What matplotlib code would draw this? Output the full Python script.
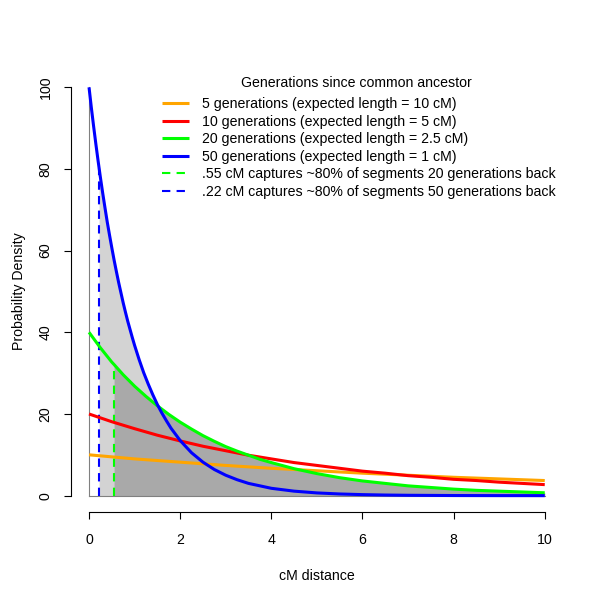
import numpy as np
import matplotlib
matplotlib.use("Agg")
import matplotlib.pyplot as plt

plt.rcParams['font.family'] = ['Liberation Sans', 'DejaVu Sans']
plt.rcParams['font.size'] = 10.2

# 50 generations curve, read densely because it is steep near 0
cm50 = [0, 0.05, 0.1, 0.15, 0.2, 0.22, 0.25, 0.3, 0.35, 0.4, 0.45, 0.5, 0.55,
        0.6, 0.65, 0.7, 0.75, 0.8, 0.85, 0.9, 0.95, 1.0,
        1.1, 1.2, 1.3, 1.4, 1.5, 1.6, 1.7, 1.8, 1.9, 2.0,
        2.25, 2.5, 2.75, 3.0, 3.25, 3.5, 3.75, 4.0,
        4.5, 5.0, 5.5, 6.0, 6.5, 7.0, 7.5, 8.0, 8.5, 9.0, 9.5, 10]
gen50 = [100, 95.1, 90.5, 86.1, 81.9, 80.3, 77.9, 74.1, 70.5, 67.0, 63.8, 60.7, 57.7,
         54.9, 52.2, 49.7, 47.2, 44.9, 42.7, 40.7, 38.7, 36.8,
         33.3, 30.1, 27.3, 24.7, 22.3, 20.2, 18.3, 16.5, 15.0, 13.5,
         10.5, 8.2, 6.4, 5.0, 3.9, 3.0, 2.4, 1.8,
         1.1, 0.67, 0.41, 0.25, 0.15, 0.09, 0.06, 0.03, 0.02, 0.01, 0.01, 0.0]

# 20 generations curve
cm20 = [0, 0.25, 0.5, 0.55, 0.75, 1.0, 1.25, 1.5, 1.75, 2.0, 2.25, 2.5, 2.75,
        3.0, 3.25, 3.5, 3.75, 4.0, 4.5, 5.0, 5.5, 6.0, 6.5, 7.0, 7.5,
        8.0, 8.5, 9.0, 9.5, 10]
gen20 = [40, 36.2, 32.7, 32.1, 29.6, 26.8, 24.3, 22.0, 19.9, 18.0, 16.3, 14.7, 13.3,
         12.0, 10.9, 9.9, 8.9, 8.1, 6.6, 5.4, 4.4, 3.6, 3.0, 2.4, 2.0,
         1.6, 1.3, 1.1, 0.9, 0.7]

# 10 generations curve
cm10 = [0, 0.5, 1, 1.5, 2, 2.5, 3, 3.5, 4, 4.5, 5, 5.5, 6, 6.5, 7, 7.5,
        8, 8.5, 9, 9.5, 10]
gen10 = [20, 18.1, 16.4, 14.8, 13.4, 12.1, 11.0, 9.9, 9.0, 8.1, 7.4, 6.7,
         6.0, 5.5, 4.9, 4.5, 4.0, 3.7, 3.3, 3.0, 2.7]

# 5 generations curve
cm5 = [0, 1, 2, 3, 4, 5, 6, 7, 8, 9, 10]
gen5 = [10, 9.0, 8.2, 7.4, 6.7, 6.1, 5.5, 5.0, 4.5, 4.1, 3.7]

curve_labels = ['5 generations (expected length = 10 cM)',
                '10 generations (expected length = 5 cM)',
                '20 generations (expected length = 2.5 cM)',
                '50 generations (expected length = 1 cM)']
curve_colors = ['orange', 'red', '#00FF00', 'blue']

# 80% cutoffs
cut_x = [0.55, 0.22]
cut_y = [32.1, 80.3]
cut_colors = ['#00FF00', 'blue']
cut_labels = ['.55 cM captures ~80% of segments 20 generations back',
              '.22 cM captures ~80% of segments 50 generations back']

fig = plt.figure(figsize=(6, 6), dpi=100)
ax = fig.add_axes([0.118, 0.1467, 0.8203, 0.735])
ax.set_xlim(-0.4, 10.4)
ax.set_ylim(-4, 104)

# shaded areas beyond the cutoffs
x50 = np.array(cm50)
x20 = np.array(cm20)
ax.fill_between(x50, 0, gen50, where=x50 >= cut_x[1], color='#D3D3D3', lw=0, zorder=1)
ax.fill_between(x20, 0, gen20, where=x20 >= cut_x[0], color='#A9A9A9', lw=0, zorder=2)
ax.plot([0, 0], [0, 100], color='#808080', lw=0.8, zorder=3)
ax.plot([0, 10], [0, 0], color='#808080', lw=0.8, zorder=3)

handles = []
series = [(cm5, gen5), (cm10, gen10), (cm20, gen20), (cm50, gen50)]
for (xs, ys), col, lab in zip(series, curve_colors, curve_labels):
    h, = ax.plot(xs, ys, color=col, lw=2.2, label=lab, zorder=5,
                 solid_capstyle='butt', solid_joinstyle='round')
    handles.append(h)
for cx, cy, col, lab in zip(cut_x, cut_y, cut_colors, cut_labels):
    h, = ax.plot([cx, cx], [0, cy], color=col, lw=1.5, dashes=(4, 3),
                 label=lab, zorder=4)
    handles.append(h)

for s in ['top', 'right']:
    ax.spines[s].set_visible(False)
ax.spines['left'].set_bounds(0, 100)
ax.spines['bottom'].set_bounds(0, 10)
ax.spines['left'].set_linewidth(0.8)
ax.spines['bottom'].set_linewidth(0.8)
ax.set_xticks([0, 2, 4, 6, 8, 10])
ax.set_yticks([0, 20, 40, 60, 80, 100])
ax.tick_params(direction='out', length=5, width=0.8, pad=8)
ax.tick_params(axis='x', pad=10)
for t in ax.get_yticklabels():
    t.set_rotation(90)
    t.set_va('center')

ax.set_xlabel('cM distance', labelpad=16)
ax.set_ylabel('Probability Density', labelpad=9)

fig.text(356 / 600, 1 - 83 / 600, 'Generations since common ancestor',
         ha='center', va='center')
ax.legend(handles=handles, frameon=False, loc='upper left',
          bbox_to_anchor=(162 / 600, 1 - 97 / 600),
          bbox_transform=fig.transFigure,
          borderpad=0, borderaxespad=0, handlelength=1.9,
          handletextpad=0.95, labelspacing=0.25, fontsize=10.2)

fig.savefig('out.png', dpi=100)
